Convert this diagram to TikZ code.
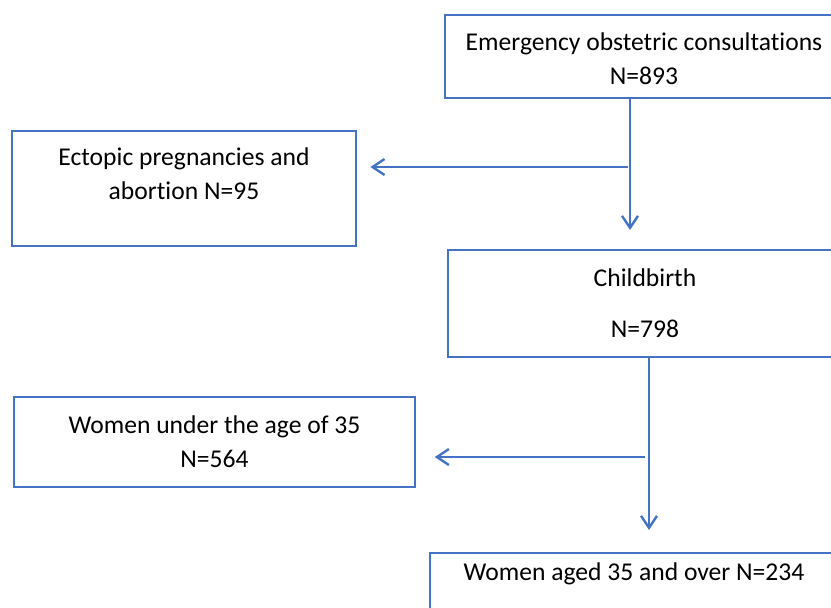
\documentclass[tikz,border=0pt]{standalone}
\usepackage{fontspec}
\setmainfont{Carlito}[Ligatures=NoCommon]
\usetikzlibrary{arrows.meta,calc}
\definecolor{boxBlue}{HTML}{4472C4}
\tikzset{
	box/.style={draw=boxBlue, line width=1.6pt, inner sep=0pt, align=center,
		font=\fontsize{19.2}{25.5}\selectfont},
	flow/.style={draw=boxBlue, line width=1.8pt,
		-{Straight Barb[length=9pt,width=12pt,line width=1.8pt]}}
}
\begin{document}
\begin{tikzpicture}[x=0.75pt,y=-0.75pt]
	\clip (0,0) rectangle (831,607);
	\node[box, minimum width=298.5pt, minimum height=62.25pt, text height=42pt] (consult) at (644,56.5) {Emergency obstetric consultations\\N=893};
	\node[box, minimum width=258pt, minimum height=86.25pt, text depth=22.5pt] (ectopic) at (184,188.5) {Ectopic pregnancies and\\abortion N=95};
	\node[box, minimum width=295.5pt, minimum height=80.25pt] (birth) at (645,303.5) {Childbirth\\[12.75pt]N=798};
	\node[box, minimum width=300.75pt, minimum height=67.5pt] (under) at (214.5,442) {Women under the age of 35\\N=564};
	\node[box, minimum width=306pt, minimum height=75pt, text depth=47pt] (over) at (634,603) {Women aged 35 and over N=234};

	\coordinate (split1) at (628,167);
	\coordinate (drop1) at (630,230);
	\coordinate (split2) at (645,457);
	\coordinate (drop2) at (649,530);

	\draw[flow] (consult.south -| drop1) -- (drop1);
	\draw[flow, shorten >=10pt] (split1) -- (ectopic.east |- split1);
	\draw[flow] (birth.south -| drop2) -- (drop2);
	\draw[flow, shorten >=14pt] (split2) -- (under.east |- split2);
\end{tikzpicture}
\end{document}
